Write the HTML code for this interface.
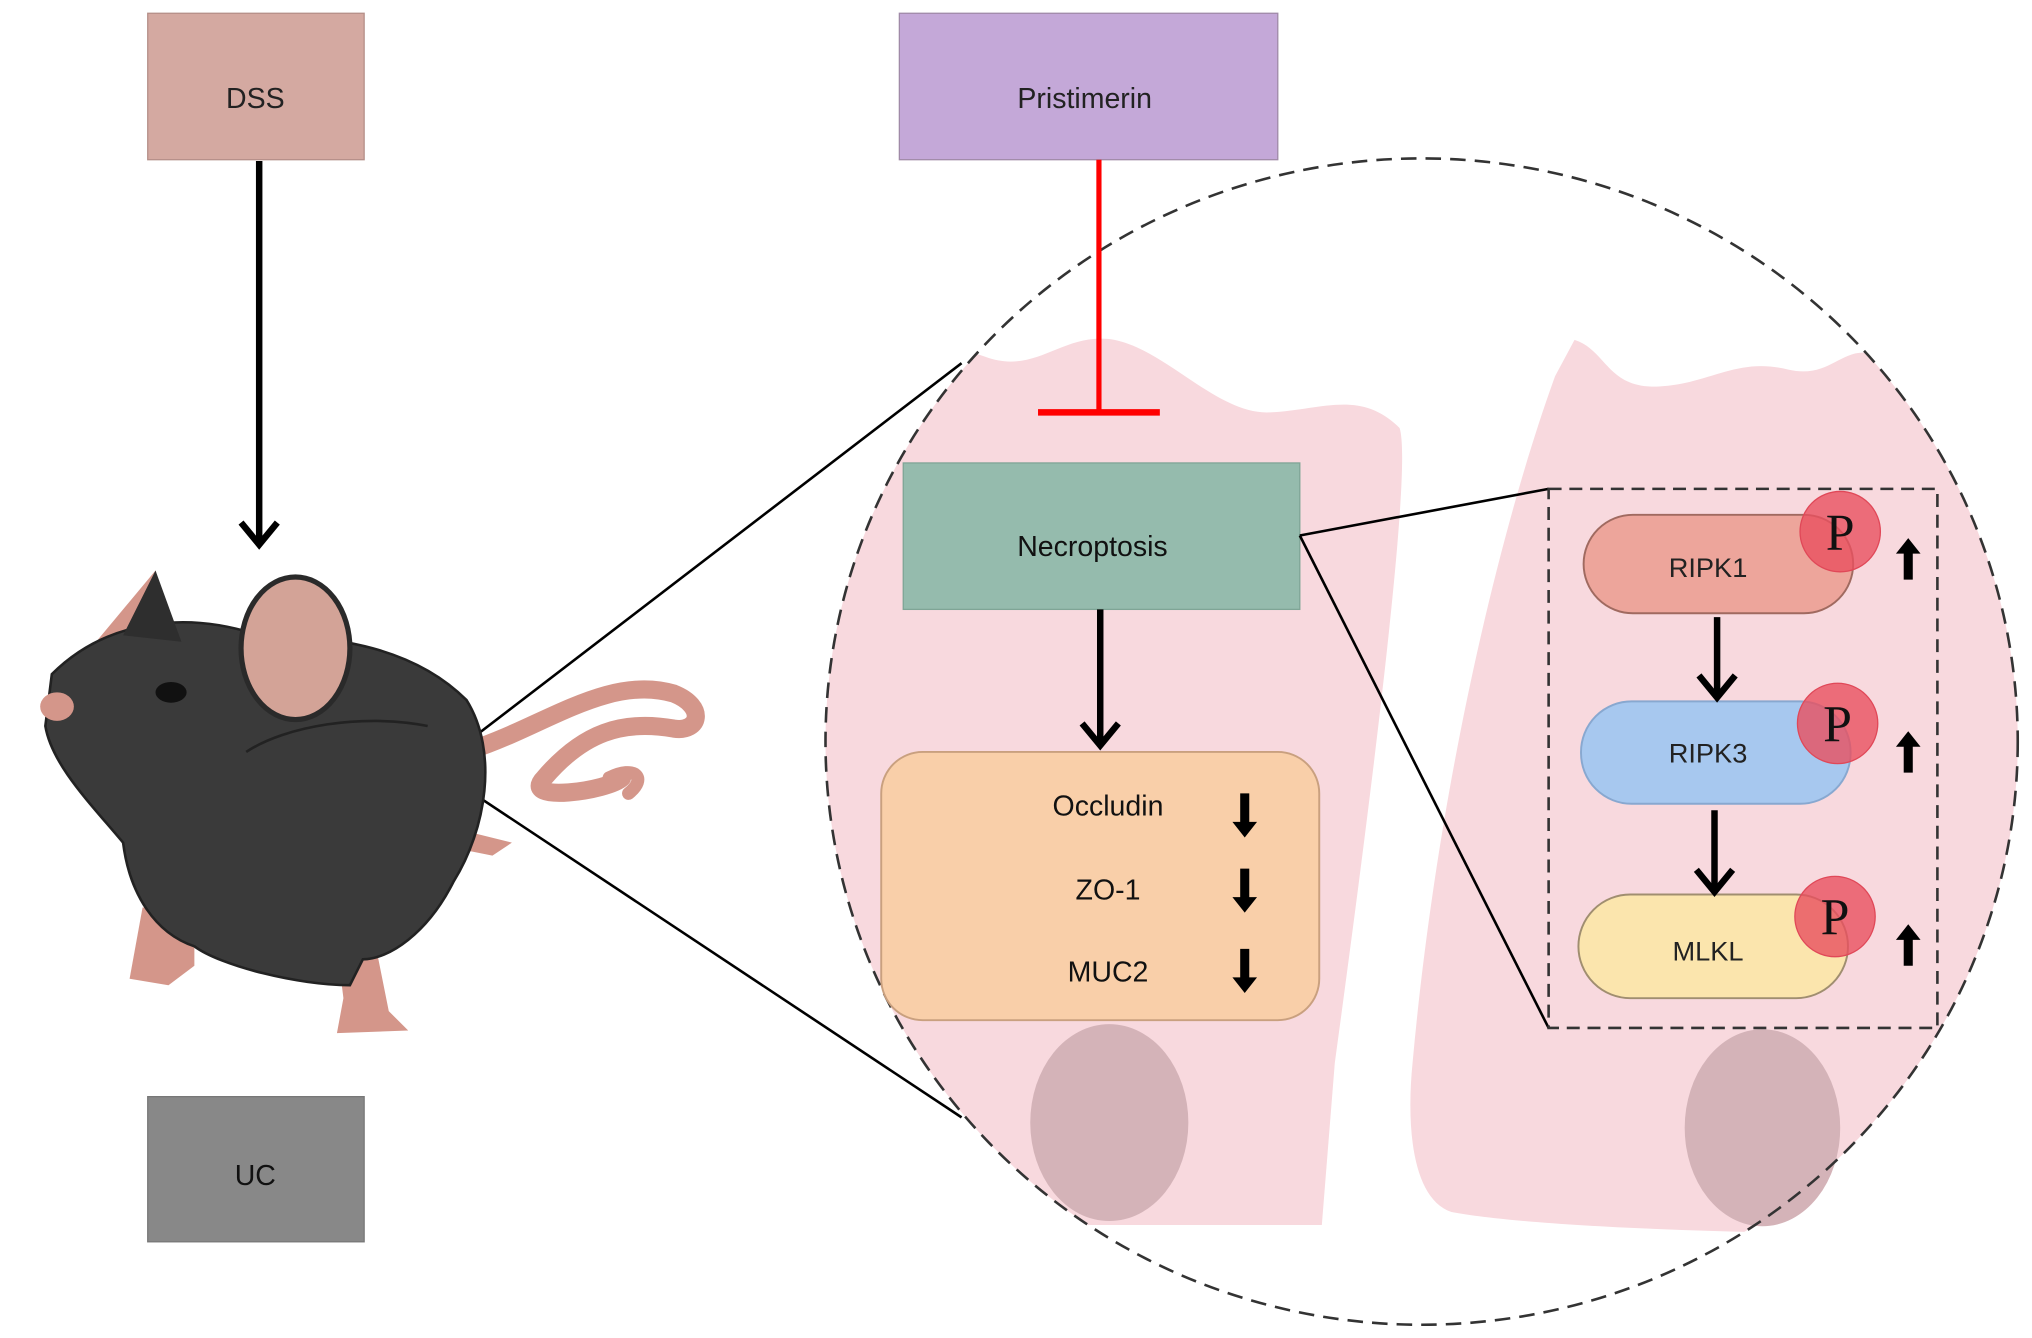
<!DOCTYPE html>
<html><head><meta charset="utf-8"><style>html,body{margin:0;padding:0;background:#fff}svg{display:block}text{font-family:"Liberation Sans",sans-serif}text.ser{font-family:"Liberation Serif",serif}</style></head>
<body>
<svg width="2032" height="1338" viewBox="0 0 1568 1032" xmlns="http://www.w3.org/2000/svg">
<defs>
<clipPath id="circ"><ellipse cx="1097" cy="572" rx="460" ry="450"/></clipPath>
</defs>
<g clip-path="url(#circ)">
<path d="M600,300 C680,280 720,260 760,275 C800,290 820,255 860,262 C900,270 940,320 980,318 C1020,316 1050,300 1080,330 C1090,360 1060,600 1030,820 L1020,945 L600,945 Z" fill="#f8d9de"/>
<path d="M1215,262 C1240,270 1240,300 1280,298 C1320,296 1340,275 1380,285 C1410,292 1420,270 1440,272 C1480,280 1560,300 1600,320 L1600,950 C1450,955 1200,950 1120,935 C1090,925 1085,870 1090,820 C1110,600 1160,400 1200,290 Z" fill="#f8d9de"/>
</g>
<ellipse cx="856" cy="866" rx="61" ry="76" fill="#d4b3b8"/>
<ellipse cx="1360" cy="870" rx="60" ry="76" fill="#d4b3b8"/>
<ellipse cx="1097" cy="572" rx="460" ry="450" fill="none" stroke="#333" stroke-width="2" stroke-dasharray="12,7"/>
<rect x="114" y="10" width="167" height="113" fill="#d4a9a1" stroke="#b58f88"/>
<text x="197" y="83" font-size="22" text-anchor="middle" fill="#222">DSS</text>
<line x1="200" y1="124" x2="200" y2="420" stroke="#000" stroke-width="5"/>
<path d="M186,403 L200,420 L214,403" fill="none" stroke="#000" stroke-width="5"/>
<rect x="114" y="846" width="167" height="112" fill="#888" stroke="#777"/>
<text x="197" y="914" font-size="22" text-anchor="middle" fill="#111">UC</text>
<rect x="694" y="10" width="292" height="113" fill="#c4a8d8" stroke="#a08aa8"/>
<text x="837" y="83" font-size="22" text-anchor="middle" fill="#222">Pristimerin</text>
<line x1="848" y1="123" x2="848" y2="318" stroke="#f00" stroke-width="4"/>
<line x1="801" y1="318" x2="895" y2="318" stroke="#f00" stroke-width="5"/>
<rect x="697" y="357" width="306" height="113" fill="#95bbad" stroke="#7fa596"/>
<text x="843" y="429" font-size="22" text-anchor="middle" fill="#111">Necroptosis</text>
<line x1="849" y1="470" x2="849" y2="574" stroke="#000" stroke-width="5"/>
<path d="M835,558 L849,575 L863,558" fill="none" stroke="#000" stroke-width="5"/>
<rect x="680" y="580" width="338" height="207" rx="32" fill="#f9cfa9" stroke="#c9a07f" stroke-width="1.5"/>
<text x="855" y="629" font-size="22" text-anchor="middle" fill="#111">Occludin</text>
<text x="855" y="694" font-size="22" text-anchor="middle" fill="#111">ZO-1</text>
<text x="855" y="757" font-size="22" text-anchor="middle" fill="#111">MUC2</text>
<g fill="#000">
<path d="M957,612 h7 v22 h6 l-9.5,12 l-9.5,-12 h6 z"/>
<path d="M957,670 h7 v22 h6 l-9.5,12 l-9.5,-12 h6 z"/>
<path d="M957,732 h7 v22 h6 l-9.5,12 l-9.5,-12 h6 z"/>
</g>
<line x1="1003" y1="413" x2="1195" y2="377" stroke="#000" stroke-width="2"/>
<line x1="1003" y1="413" x2="1195" y2="793" stroke="#000" stroke-width="2"/>
<line x1="335" y1="592" x2="742" y2="280" stroke="#000" stroke-width="2"/>
<line x1="335" y1="592" x2="742" y2="862" stroke="#000" stroke-width="2"/>
<rect x="1195" y="377" width="300" height="416" fill="none" stroke="#333" stroke-width="2" stroke-dasharray="10,6"/>
<rect x="1222" y="397" width="208" height="76" rx="38" fill="#eda59b" stroke="#a06a60" stroke-width="1.5"/>
<text x="1318" y="445" font-size="21" text-anchor="middle" fill="#222">RIPK1</text>
<rect x="1220" y="541" width="208" height="79" rx="39" fill="#a7c8ef" stroke="#88a8d0" stroke-width="1.5"/>
<text x="1318" y="588" font-size="21" text-anchor="middle" fill="#222">RIPK3</text>
<rect x="1218" y="690" width="208" height="80" rx="40" fill="#fbe5ad" stroke="#a08e70" stroke-width="1.5"/>
<text x="1318" y="741" font-size="21" text-anchor="middle" fill="#222">MLKL</text>
<line x1="1325" y1="476" x2="1325" y2="538" stroke="#000" stroke-width="5"/>
<path d="M1311,521 L1325,538 L1339,521" fill="none" stroke="#000" stroke-width="5"/>
<line x1="1323" y1="625" x2="1323" y2="688" stroke="#000" stroke-width="5"/>
<path d="M1309,671 L1323,688 L1337,671" fill="none" stroke="#000" stroke-width="5"/>
<g fill="#e8505f" fill-opacity="0.8" stroke="#e04858">
<circle cx="1420" cy="410" r="31"/><circle cx="1418" cy="558" r="31"/><circle cx="1416" cy="707" r="31"/>
</g>
<text class="ser" x="1420" y="424" font-size="40" fill="#111" text-anchor="middle">P</text>
<text class="ser" x="1418" y="572" font-size="40" fill="#111" text-anchor="middle">P</text>
<text class="ser" x="1416" y="721" font-size="40" fill="#111" text-anchor="middle">P</text>
<g fill="#000">
<path d="M1469,447 h7 v-20 h6 l-9.5,-12 l-9.5,12 h6 z"/>
<path d="M1469,596 h7 v-20 h6 l-9.5,-12 l-9.5,12 h6 z"/>
<path d="M1469,745 h7 v-20 h6 l-9.5,-12 l-9.5,12 h6 z"/>
</g>
<g>
<path d="M365,578 C420,560 470,520 520,535 C545,545 540,565 520,562 C480,555 450,565 420,600 C400,620 470,610 480,600" fill="none" stroke="#d4968a" stroke-width="14" stroke-linecap="round"/>
<path d="M470,600 C490,590 500,600 485,612" fill="none" stroke="#d4968a" stroke-width="10" stroke-linecap="round"/>
<path d="M355,640 L395,650 L380,660 L355,655 Z" fill="#d4968a"/>
<path d="M110,700 L150,700 L150,745 L130,760 L100,755 Z" fill="#d4968a"/>
<path d="M260,730 L290,730 L300,780 L315,795 L260,797 L265,770 Z" fill="#d4968a"/>
<path d="M70,500 L120,440 L135,490 L110,530 Z" fill="#d4968a"/>
<path d="M40,520 C80,480 140,470 200,490 C260,490 320,500 360,540 C385,580 375,640 350,680 C330,720 300,740 280,740 L270,760 C230,760 170,745 150,730 C120,720 100,690 95,650 C70,620 40,590 35,560 Z" fill="#3a3a3a" stroke="#222" stroke-width="2"/>
<path d="M95,490 L120,440 L140,495 Z" fill="#2e2e2e"/>
<ellipse cx="228" cy="500" rx="42" ry="55" fill="#d3a397" stroke="#2a2a2a" stroke-width="4"/>
<ellipse cx="132" cy="534" rx="12" ry="8" fill="#111"/>
<ellipse cx="44" cy="545" rx="13" ry="11" fill="#d4968a"/>
<path d="M190,580 C220,560 280,550 330,560" fill="none" stroke="#222" stroke-width="2"/>
</g>
</svg>
</body></html>
